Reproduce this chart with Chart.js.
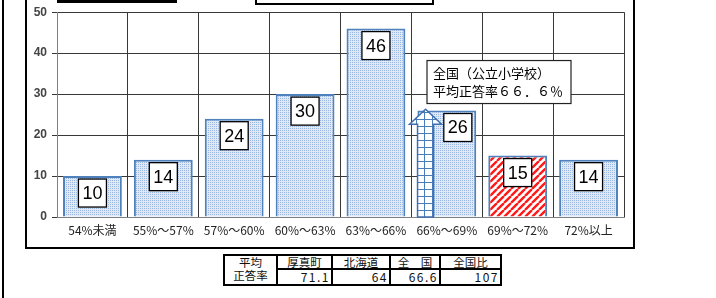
<!DOCTYPE html>
<html>
<head>
<meta charset="utf-8">
<script src="https://cdn.jsdelivr.net/npm/chart.js@4"></script>
<style>
  body { margin: 0; background: #fff; }
  #wrap { position: relative; width: 716px; height: 298px; overflow: hidden; font-family: "Noto Sans CJK JP", sans-serif; }
  #c { position: absolute; left: 0; top: 0; }
  .ln { position: absolute; background: #000; }
  #tbl { position: absolute; left: 223px; top: 254px; display: grid;
         grid-template-columns: 51px 53px 56px 48px 59px; grid-template-rows: 12px 14px;
         gap: 2px; background: #000; border: 2px solid #000; font-size: 11.5px; }
  #tbl div { background: #fff; line-height: 12px; text-align: center; color: #111; overflow: hidden; }
  #tbl .v { text-align: right; letter-spacing: 1.5px; font-size: 12px; line-height: 14px; padding-right: 1px; }
  #tbl .h { grid-row: span 2; line-height: 13px; }
</style>
</head>
<body>
<div id="wrap">
  <canvas id="c" width="716" height="298"></canvas>
  <!-- frame lines -->
  <div class="ln" style="left:2px;top:0;width:2px;height:298px"></div>
  <div class="ln" style="left:25px;top:0;width:2px;height:249px"></div>
  <div class="ln" style="left:633px;top:0;width:2px;height:249px"></div>
  <div class="ln" style="left:25px;top:247px;width:610px;height:2px"></div>
  <div class="ln" style="left:57px;top:0;width:120px;height:3px"></div>
  <div style="position:absolute;left:255px;top:-10px;width:175px;height:11px;border:2px solid #000;background:#fff"></div>
  <div id="tbl"></div>
</div>
<script>
// categories and counts (number of schools per correct-answer band)
var categories = ['54%未満', '55%～57%', '57%～60%', '60%～63%', '63%～66%', '66%～69%', '69%～72%', '72%以上'];
var counts = [10, 14, 24, 30, 46, 26, 15, 14];
var highlightIndex = 6;      // band containing 厚真町
var yMax = 50;
var yStep = 10;

// national average marker
var nationalAvg = 66.6;
var avgBandIndex = 5;        // 66%～69%
var avgBandStart = 66;
var avgBandWidth = 3;
var arrowTop = 26.3;
var noteLines = ['全国（公立小学校）', '平均正答率６６．６％'];

// summary table
var tableHead = ['厚真町', '北海道', '全　国', '全国比'];
var tableVals = ['71.1', '64', '66.6', '107'];

// build the table
var tbl = document.getElementById('tbl');
var html = '<div class="h">平均<br>正答率</div>';
tableHead.forEach(function(h) { html += '<div>' + h + '</div>'; });
tableVals.forEach(function(v) { html += '<div class="v">' + v + '</div>'; });
tbl.innerHTML = html;

var ctx = document.getElementById('c').getContext('2d');

function makeDots() {
    var c = document.createElement('canvas'); c.width = 2; c.height = 2;
    var g = c.getContext('2d');
    g.fillStyle = '#e0e9f5'; g.fillRect(0, 0, 2, 2);
    g.fillStyle = '#98b6df'; g.fillRect(0, 0, 1, 1);
    return ctx.createPattern(c, 'repeat');
}
function makeStripes() {
    var c = document.createElement('canvas'); c.width = 7; c.height = 7;
    var g = c.getContext('2d');
    g.fillStyle = '#fff'; g.fillRect(0, 0, 7, 7);
    g.strokeStyle = '#ff1a1a'; g.lineWidth = 2.4;
    g.beginPath();
    [-7, 0, 7].forEach(function(k) { g.moveTo(k, 7); g.lineTo(k + 7, 0); });
    g.stroke();
    return ctx.createPattern(c, 'repeat');
}
function makeGrid() {
    var c = document.createElement('canvas'); c.width = 8; c.height = 7;
    var g = c.getContext('2d');
    g.fillStyle = '#fff'; g.fillRect(0, 0, 8, 7);
    g.fillStyle = '#4a7ebb'; g.fillRect(0, 0, 8, 1); g.fillRect(0, 0, 1, 7);
    return ctx.createPattern(c, 'repeat');
}

var dots = makeDots(), stripes = makeStripes(), gridFill = makeGrid();

var overlay = {
    id: 'overlay',
    afterDatasetsDraw: function(chart) {
        var c = chart.ctx, xs = chart.scales.x, ys = chart.scales.y, area = chart.chartArea;
        var catW = (xs.right - xs.left) / categories.length;

        // arrow for national average
        var ax = xs.getPixelForValue(avgBandIndex) - catW / 2 + (nationalAvg - avgBandStart) / avgBandWidth * catW;
        var tip = ys.getPixelForValue(arrowTop), base = ys.getPixelForValue(0);
        var sw = 8, hw = 16, hh = 15;
        c.save();
        c.beginPath();
        c.moveTo(ax, tip);
        c.lineTo(ax + hw, tip + hh);
        c.lineTo(ax + sw, tip + hh);
        c.lineTo(ax + sw, base);
        c.lineTo(ax - sw, base);
        c.lineTo(ax - sw, tip + hh);
        c.lineTo(ax - hw, tip + hh);
        c.closePath();
        c.fillStyle = gridFill; c.fill();
        c.strokeStyle = '#3f6fae'; c.lineWidth = 1.5; c.stroke();
        c.restore();

        // value boxes
        var meta = chart.getDatasetMeta(0);
        c.save();
        c.font = '18px "Liberation Sans", Arial, sans-serif';
        c.textAlign = 'center'; c.textBaseline = 'middle';
        meta.data.forEach(function(bar, i) {
            var t = String(counts[i]);
            var w = Math.max(27, c.measureText(t).width + 8), h = 28;
            var cx = bar.x + (i === avgBandIndex ? 11 : 0);
            var top = bar.y + 3;
            c.fillStyle = '#fff'; c.fillRect(cx - w / 2, top, w, h);
            c.strokeStyle = '#000'; c.lineWidth = 1.3; c.strokeRect(cx - w / 2, top, w, h);
            c.fillStyle = '#000'; c.fillText(t, cx, top + h / 2 + 1);
        });
        c.restore();

        // note box
        var bx = area.left + 370, by = ys.getPixelForValue(38.2), bw = 144, bh = 43;
        c.save();
        c.fillStyle = '#fff'; c.fillRect(bx, by, bw, bh);
        c.strokeStyle = '#222'; c.lineWidth = 1.2; c.strokeRect(bx, by, bw, bh);
        c.fillStyle = '#000'; c.font = '13px "Noto Sans CJK JP", sans-serif';
        c.textBaseline = 'middle'; c.textAlign = 'left';
        c.fillText(noteLines[0], bx + 6, by + 13);
        c.fillText(noteLines[1], bx + 6, by + 31);
        c.restore();
    }
};

var chart = new Chart(ctx, {
    type: 'bar',
    data: {
        labels: categories,
        datasets: [{
            data: counts,
            backgroundColor: counts.map(function(v, i) { return i === highlightIndex ? stripes : dots; }),
            borderColor: '#4f81bd',
            borderWidth: 2,
            barPercentage: 0.83,
            categoryPercentage: 1
        }]
    },
    options: {
        responsive: false,
        animation: false,
        layout: { padding: { left: 0, right: 92, top: 12, bottom: 0 } },
        plugins: { legend: { display: false }, title: { display: false }, tooltip: { enabled: false } },
        scales: {
            x: {
                afterFit: function(s) { s.height = 81; },
                grid: { color: '#383838', lineWidth: 1, drawTicks: false, offset: true },
                border: { color: '#808080' },
                ticks: { color: '#222', padding: 6, font: { size: 12, family: '"Noto Sans CJK JP", sans-serif' }, maxRotation: 0, autoSkip: false }
            },
            y: {
                min: 0, max: yMax,
                afterFit: function(s) { s.width = 57; },
                grid: { color: '#383838', lineWidth: 1, tickLength: 5 },
                border: { color: '#808080' },
                ticks: { stepSize: yStep, color: '#444', padding: 5, font: { size: 12, weight: 'bold', family: '"Liberation Sans", Arial, sans-serif' } }
            }
        }
    },
    plugins: [overlay]
});
</script>
</body>
</html>
